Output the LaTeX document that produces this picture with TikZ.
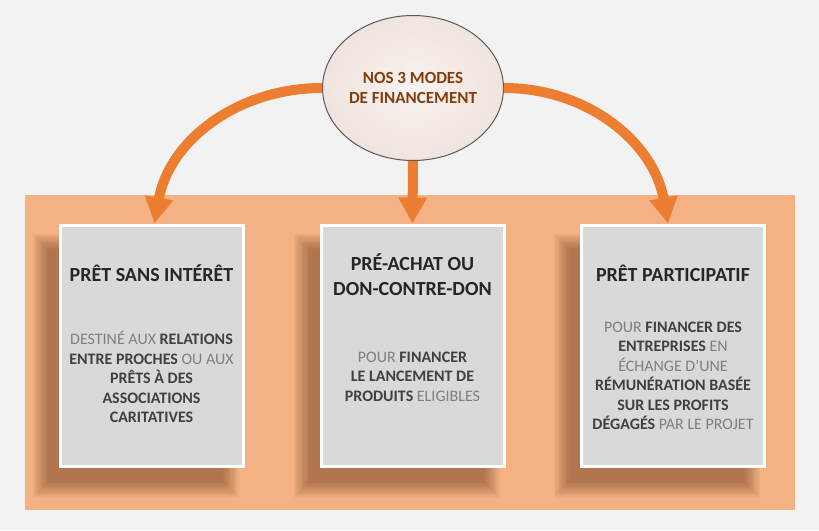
\documentclass[tikz,border=0pt]{standalone}
\usepackage{fontspec}
\setmainfont{Carlito}
\usetikzlibrary{arrows.meta,shapes.geometric,backgrounds}

\definecolor{pagebg}{HTML}{F2F2F2}
\definecolor{panel}{HTML}{F4B183}
\definecolor{arrorange}{HTML}{ED7D31}
\definecolor{modebrown}{HTML}{843C0C}
\definecolor{cardgray}{HTML}{D9D9D9}
\definecolor{titlegray}{HTML}{262626}
\definecolor{textgray}{HTML}{7F7F7F}
\definecolor{textdark}{HTML}{404040}
\definecolor{shadebrown}{HTML}{5A2A0A}
\definecolor{modein}{HTML}{F8F3F1}
\definecolor{modeout}{HTML}{F1E4DF}

\newcommand\fort[1]{{\bfseries\color{textdark}#1}}

\begin{document}
\begin{tikzpicture}[x=1pt,y=-1pt,
            card/.style={rectangle,fill=cardgray,draw=white,line width=3pt,
                minimum width=183pt,minimum height=241pt,inner sep=0pt},
            titre/.style={align=center,text=titlegray,
                font=\bfseries\fontsize{20}{25}\selectfont},
            corps/.style={align=center,text=textgray,
                font=\fontsize{16}{19.5}\selectfont},
            mode/.style={ellipse,minimum width=172pt,minimum height=145pt,inner sep=0pt,
                draw=gray!70!black,line width=1pt,inner color=modein,outer color=modeout,
                align=center,text=modebrown,font=\bfseries\fontsize{17}{20}\selectfont},
            fleche/.style={-{Triangle[width=27pt,length=26pt]},line width=10pt,arrorange}]

            % the three cards, sitting on the orange band
            \node[card] (pret)     at (151.5,345.5) {};
            \node[card] (preachat) at (412.5,345.5) {};
            \node[card] (particip) at (673,345.5) {};

            \begin{scope}[on background layer]
                \fill[pagebg] (0,0) rectangle (819,530);
                \fill[panel] (25,195) rectangle (795,510);
                % soft shadow, thrown down and to the left
                \foreach \b in {pret,preachat,particip}
                    \foreach \k in {0,...,13}
                        \fill[shadebrown,opacity=0.035]
                        ([shift={(-26+1.2*\k,10+1.2*\k)}]\b.north west) rectangle
                        ([shift={(-6-1.2*\k,30-1.2*\k)}]\b.south east);
            \end{scope}

            \node[titre] at ([yshift=72.5pt]pret.center) {PRÊT SANS INTÉRÊT};
            \node[titre] at ([yshift=71pt]preachat.center) {PRÉ-ACHAT OU\\DON-CONTRE-DON};
            \node[titre] at ([yshift=72.5pt]particip.center) {PRÊT PARTICIPATIF};

            \node[corps] at ([yshift=-31.5pt]pret.center)
                {DESTINÉ AUX \fort{RELATIONS}\\\fort{ENTRE PROCHES} OU AUX\\
                 \fort{PRÊTS À DES}\\\fort{ASSOCIATIONS}\\\fort{CARITATIVES}};
            \node[corps] at ([yshift=-31pt]preachat.center)
                {POUR \fort{FINANCER}\\\fort{LE LANCEMENT DE}\\\fort{PRODUITS} ELIGIBLES};
            \node[corps] at ([yshift=-30.5pt]particip.center)
                {POUR \fort{FINANCER DES}\\\fort{ENTREPRISES} EN\\ÉCHANGE D’UNE\\
                 \fort{RÉMUNÉRATION BASÉE}\\\fort{SUR LES PROFITS}\\\fort{DÉGAGÉS} PAR LE PROJET};

            % the hub and its three arrows
            \node[mode] (modes) at (413,88) {NOS 3 MODES\\DE FINANCEMENT};

            \draw[fleche] (modes.west) to[out=180,in=80] ([xshift=3pt]pret.north);
            \draw[fleche] (modes.south) -- (preachat.north);
            \draw[fleche] (modes.east) to[out=0,in=100] ([xshift=-5pt]particip.north);
        \end{tikzpicture}
\end{document}
